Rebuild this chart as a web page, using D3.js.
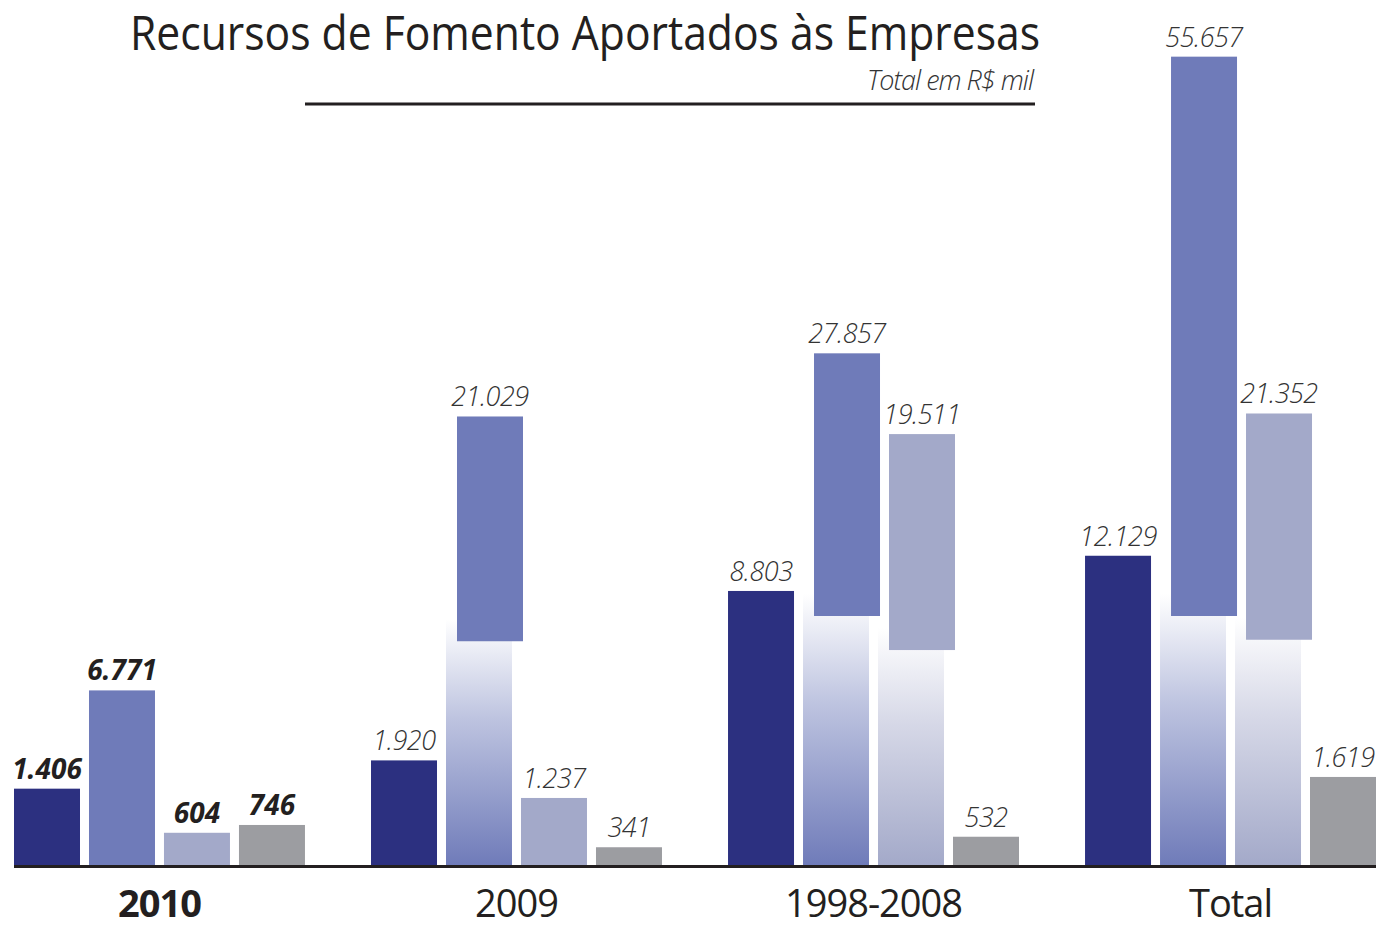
<!DOCTYPE html>
<html>
<head>
<meta charset="utf-8">
<script src="https://cdn.jsdelivr.net/npm/d3@7"></script>
<style>
  body { margin: 0; background: #fff; }
</style>
</head>
<body>
<div id="chart"></div>
<script>
"use strict";

// categories (periods) and the four values shown in each group
const periods = ["2010", "2009", "1998-2008", "Total"];
const values_2010 = [1406, 6771, 604, 746];
const values_2009 = [1920, 21029, 1237, 341];
const values_1998_2008 = [8803, 27857, 19511, 532];
const values_total = [12129, 55657, 21352, 1619];

const title_text = "Recursos de Fomento Aportados às Empresas";
const subtitle_text = "Total em R$ mil";

const colors = ["#2c3080", "#6f7bb9", "#a3a9c9", "#9c9da1"];
const ink = "#231f20";
const font_sans = "'Open Sans', sans-serif";

let width = 1392, height = 929;
let baseline = 866;

let table = periods.map((p, i) => ({
    period: p,
    values: [values_2010, values_2009, values_1998_2008, values_total][i]
}));

let locale = d3.formatLocale({decimal: ",", thousands: ".", grouping: [3], currency: ["R$", ""]});
let fmt = locale.format(",d");

let x0 = d3.scaleBand()
    .domain(periods)
    .range([14, 1376])
    .paddingInner(0.185);

let x1 = d3.scaleBand()
    .domain(d3.range(4))
    .range([0, x0.bandwidth()])
    .paddingInner(0.12);

// the printed chart uses a compressed value axis, not a linear one
let y = d3.scaleLinear()
    .domain([0, 2000, 6800, 8800, 12200, 20000, 28000, 56000])
    .range([baseline, baseline - 110, baseline - 176, baseline - 275,
            baseline - 311, baseline - 440, baseline - 514, baseline - 813]);

// bars above this are drawn cut in two (faded stub + raised block)
let break_value = 15000;
let shift = 11;

const svg = d3.select("#chart")
    .append("svg")
    .attr("width", width)
    .attr("height", height);

const defs = svg.append("defs");
colors.forEach((c, i) => {
    const g = defs.append("linearGradient")
        .attr("id", "fade" + i)
        .attr("x1", 0).attr("y1", 1)
        .attr("x2", 0).attr("y2", 0);
    g.append("stop").attr("offset", 0).attr("stop-color", c);
    g.append("stop").attr("offset", 0.6).attr("stop-color", d3.interpolateRgb(c, "#ffffff")(0.55));
    g.append("stop").attr("offset", 1).attr("stop-color", "#ffffff");
});

// title
svg.append("text")
    .attr("x", 130)
    .attr("y", 50)
    .attr("textLength", 910)
    .attr("lengthAdjust", "spacingAndGlyphs")
    .style("font-family", font_sans)
    .style("font-size", "48px")
    .attr("fill", ink)
    .text(title_text);

svg.append("text")
    .attr("x", 1033)
    .attr("y", 90)
    .attr("text-anchor", "end")
    .style("font-family", font_sans)
    .style("font-style", "italic")
    .style("font-weight", 300)
    .style("font-size", "27px")
    .style("letter-spacing", "-1px")
    .attr("fill", "#333")
    .text(subtitle_text);

svg.append("line")
    .attr("x1", 305).attr("x2", 1035)
    .attr("y1", 104).attr("y2", 104)
    .attr("stroke", ink)
    .attr("stroke-width", 3);

const group = svg.append("g")
  .selectAll("g")
  .data(table)
  .join("g")
    .attr("transform", d => `translate(${x0(d.period)},0)`);

const bar = group.selectAll("g")
  .data(d => d.values.map((v, i) => ({period: d.period, value: v, i: i})))
  .join("g");

bar.each(function(d) {
    const g = d3.select(this);
    const top = y(d.value);
    const h = baseline - top;
    const bx = x1(d.i);
    const bw = x1.bandwidth();
    let labelX = bx + bw / 2;

    if (d.value > break_value) {
        const breakH = Math.min(h * 0.5, 250);
        g.append("rect")
            .attr("x", bx)
            .attr("y", baseline - breakH - 22)
            .attr("width", bw)
            .attr("height", breakH + 22)
            .attr("fill", `url(#fade${d.i})`);
        g.append("rect")
            .attr("x", bx + shift)
            .attr("y", top)
            .attr("width", bw)
            .attr("height", h - breakH)
            .attr("fill", colors[d.i]);
        labelX += shift;
    } else {
        g.append("rect")
            .attr("x", bx)
            .attr("y", top)
            .attr("width", bw)
            .attr("height", h)
            .attr("fill", colors[d.i]);
    }

    const bold = d.period === "2010";
    g.append("text")
        .attr("x", labelX)
        .attr("y", top - 10)
        .attr("text-anchor", "middle")
        .style("font-family", font_sans)
        .style("font-style", "italic")
        .style("font-weight", bold ? 700 : 300)
        .style("font-size", bold ? "28px" : "27px")
        .style("letter-spacing", bold ? "0px" : "-0.5px")
        .attr("fill", bold ? ink : "#333")
        .text(fmt(d.value));
});

// axis line and period labels
svg.append("line")
    .attr("x1", 14).attr("x2", 1376)
    .attr("y1", baseline + 0.5).attr("y2", baseline + 0.5)
    .attr("stroke", ink)
    .attr("stroke-width", 3);

svg.append("g")
  .selectAll("text")
  .data(periods)
  .join("text")
    .attr("x", d => x0(d) + x0.bandwidth() / 2)
    .attr("y", 917)
    .attr("text-anchor", "middle")
    .style("font-family", font_sans)
    .style("font-size", "38px")
    .style("font-weight", d => d === "2010" ? 700 : 400)
    .style("letter-spacing", "-1px")
    .attr("fill", ink)
    .text(d => d);
</script>
</body>
</html>
